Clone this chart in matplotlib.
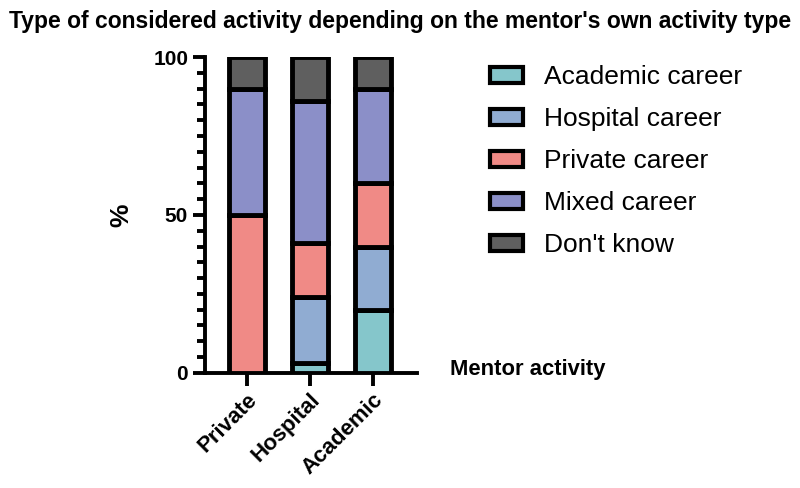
import matplotlib
matplotlib.use("Agg")
import matplotlib.pyplot as plt
import numpy as np
from matplotlib.patches import Patch
from matplotlib.ticker import MultipleLocator

plt.rcParams['font.family'] = ['Liberation Sans', 'DejaVu Sans']

mentor = ["Private", "Hospital", "Academic"]
series_names = ["Academic career", "Hospital career", "Private career", "Mixed career", "Don't know"]
academic = [0, 3, 20]
hospital = [0, 21, 20]
private = [50, 17, 20]
mixed = [40, 45, 30]
dontknow = [10, 14, 10]
colors = ["#85C6CB", "#90ACD2", "#F08A86", "#8B8FC8", "#5F5F5F"]

fig = plt.figure(figsize=(8, 4.88), dpi=100)
ax = fig.add_axes([0.256, 0.236, 0.265, 0.647])

x = np.arange(len(mentor))
bottom = np.zeros(len(mentor))
for vals, c in zip([academic, hospital, private, mixed, dontknow], colors):
    v = np.array(vals, dtype=float)
    ax.bar(x, v, bottom=bottom, width=0.58, color=c, edgecolor='black', linewidth=3.5, zorder=3)
    bottom += v

ax.set_xlim(-0.67, 2.7)
ax.set_ylim(0, 100)
ax.set_yticks([0, 50, 100])
ax.yaxis.set_minor_locator(MultipleLocator(5))
ax.spines['top'].set_visible(False)
ax.spines['right'].set_visible(False)
for s in ['left', 'bottom']:
    ax.spines[s].set_linewidth(2.8)
ax.tick_params(axis='y', which='major', length=9, width=2.8, labelsize=15, pad=3)
ax.tick_params(axis='y', which='minor', length=6, width=2.8)
ax.tick_params(axis='x', length=9, width=2.8, labelsize=16, pad=3)
ax.set_xticks(x)
ax.set_xticklabels(mentor, rotation=45, ha='right', rotation_mode='anchor', fontweight='bold')
for lab in ax.get_yticklabels():
    lab.set_fontweight('bold')
ax.set_ylabel('%', fontsize=19, fontweight='bold', labelpad=14)

fig.text(0.5, 0.955, "Type of considered activity depending on the mentor's own activity type",
         ha='center', va='center', fontsize=16.5, fontweight='bold')
fig.text(0.562, 0.243, "Mentor activity", ha='left', va='center', fontsize=15.8, fontweight='bold')

handles = [Patch(facecolor=c, edgecolor='black', linewidth=3, label=n) for c, n in zip(colors, series_names)]
fig.legend(handles=handles, loc='upper left', bbox_to_anchor=(0.612, 0.866), frameon=False,
           fontsize=19, handlelength=1.25, handleheight=0.55, handletextpad=0.8, labelspacing=0.68,
           borderpad=0, borderaxespad=0)

fig.savefig("out.png", dpi=100)
